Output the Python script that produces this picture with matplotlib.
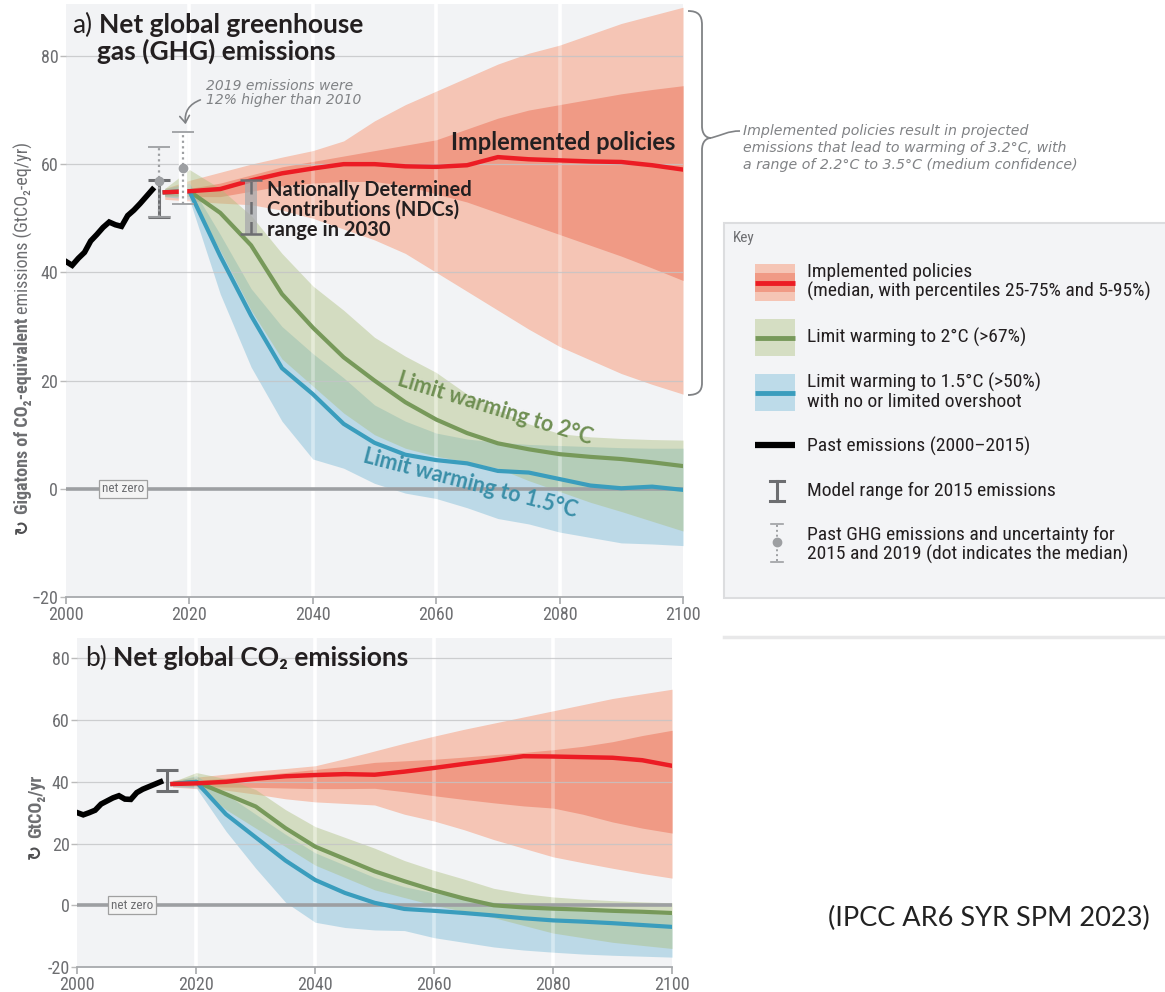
import numpy as np
import matplotlib
matplotlib.use("Agg")
import matplotlib.pyplot as plt
from matplotlib import font_manager
from matplotlib.patches import Rectangle, PathPatch
from matplotlib.path import Path


def pick(*names):
    avail = {f.name for f in font_manager.fontManager.ttflist}
    for n in names:
        if n in avail:
            return n
    return "DejaVu Sans"


NARROW = pick("Liberation Sans Narrow", "Roboto Condensed", "Roboto")
BOLD = pick("Lato", "Open Sans", "Noto Sans")

# ---------------------------------------------------------------- data
past_years = list(range(2000, 2015))
ghg_past = [42.0, 41.3, 42.6, 43.7, 45.8, 47.0, 48.3, 49.3, 48.8, 48.5,
            50.5, 51.5, 52.7, 54.0, 55.3]
co2_past = [30.0, 29.3, 30.0, 30.8, 32.8, 33.8, 34.8, 35.5, 34.4, 34.3,
            36.5, 37.6, 38.4, 39.2, 40.0]

proj_years = [2016, 2020, 2025, 2030, 2035, 2040, 2045, 2050, 2055, 2060,
              2065, 2070, 2075, 2080, 2085, 2090, 2095, 2100]

# GHG: implemented policies (median, 25-75 %, 5-95 %)
ghg_ip_med = [54.8, 55.0, 55.4, 57.0, 58.3, 59.2, 60.0, 60.0, 59.6, 59.5,
              59.8, 61.3, 60.9, 60.7, 60.5, 60.4, 59.8, 59.0]
ghg_ip_p25 = [54.3, 54.0, 54.0, 55.0, 56.0, 56.5, 56.8, 56.8, 56.0, 54.5,
              53.0, 51.0, 49.0, 47.0, 45.0, 43.0, 40.8, 38.5]
ghg_ip_p75 = [55.0, 55.5, 56.5, 58.0, 59.5, 60.5, 61.5, 62.5, 63.5, 64.5,
              66.5, 68.5, 70.0, 71.0, 72.0, 73.0, 73.8, 74.5]
ghg_ip_p05 = [53.5, 53.2, 52.8, 52.5, 51.5, 50.0, 48.0, 46.0, 43.5, 40.0,
              36.5, 33.0, 29.5, 26.3, 23.8, 21.3, 19.3, 17.5]
ghg_ip_p95 = [55.5, 57.0, 58.5, 60.0, 61.3, 62.5, 64.3, 68.0, 71.0, 73.5,
              76.0, 78.5, 80.5, 82.0, 84.0, 86.0, 87.5, 89.0]
# GHG: limit warming to 2 °C
ghg_c3_med = [54.8, 55.0, 51.0, 45.0, 36.0, 29.8, 24.3, 20.0, 16.0, 12.8,
              10.3, 8.4, 7.3, 6.4, 5.9, 5.5, 4.9, 4.2]
ghg_c3_hi = [55.5, 59.0, 55.5, 50.5, 43.5, 37.5, 33.0, 28.0, 24.5, 21.5,
             17.5, 14.5, 12.0, 10.2, 9.6, 9.3, 9.1, 9.0]
ghg_c3_lo = [54.0, 54.0, 44.0, 33.0, 24.0, 19.0, 14.0, 10.0, 7.5, 6.0,
             5.0, 3.8, 1.5, -0.5, -2.5, -4.2, -6.0, -7.8]
# GHG: limit warming to 1.5 °C
ghg_c1_med = [54.8, 55.0, 43.0, 32.0, 22.3, 17.5, 12.0, 8.5, 6.3, 5.3,
              4.7, 3.3, 3.0, 1.8, 0.6, 0.1, 0.4, -0.2]
ghg_c1_hi = [55.5, 56.5, 47.0, 37.0, 30.0, 25.0, 20.5, 15.5, 12.5, 10.3,
             9.2, 8.6, 8.2, 8.0, 7.8, 7.6, 7.5, 7.5]
ghg_c1_lo = [54.0, 53.5, 36.0, 22.5, 12.5, 5.5, 3.8, 1.0, -0.8, -1.8,
             -3.5, -5.5, -6.5, -8.0, -9.0, -10.0, -10.2, -10.5]

# CO2: implemented policies
co2_ip_med = [39.3, 39.5, 40.0, 41.0, 41.8, 42.2, 42.5, 42.3, 43.3, 44.5,
              45.8, 47.0, 48.3, 48.2, 48.0, 47.8, 47.0, 45.2]
co2_ip_p25 = [38.8, 38.5, 38.3, 38.2, 38.0, 37.8, 37.8, 37.9, 36.8, 35.5,
              34.3, 33.2, 32.2, 31.5, 29.5, 27.0, 25.0, 23.4]
co2_ip_p75 = [40.0, 40.5, 41.2, 42.0, 43.0, 44.0, 45.0, 46.3, 46.8, 47.3,
              48.0, 48.8, 49.5, 50.4, 51.5, 53.0, 55.0, 56.7]
co2_ip_p05 = [38.3, 37.8, 37.3, 36.0, 34.5, 33.5, 33.0, 32.5, 29.5, 27.3,
              24.5, 21.3, 18.5, 15.7, 13.8, 12.0, 10.3, 8.8]
co2_ip_p95 = [40.5, 41.5, 42.5, 43.5, 44.3, 45.2, 47.5, 50.0, 52.5, 54.8,
              57.0, 59.0, 61.0, 63.0, 65.0, 67.0, 68.5, 70.0]
# CO2: 2 °C
co2_c3_med = [39.3, 40.0, 36.0, 32.0, 25.0, 19.0, 15.0, 11.0, 7.8, 4.8,
              2.2, 0.0, -0.7, -1.1, -1.4, -1.8, -2.1, -2.5]
co2_c3_hi = [40.0, 43.0, 41.0, 37.5, 31.0, 25.5, 22.0, 18.5, 14.5, 11.3,
             8.5, 5.5, 3.8, 2.7, 2.0, 1.5, 1.1, 0.8]
co2_c3_lo = [38.8, 38.5, 31.0, 25.0, 19.0, 13.0, 9.0, 5.0, 2.5, 0.0,
             -2.0, -4.0, -6.5, -9.0, -10.5, -12.0, -13.0, -14.0]
# CO2: 1.5 °C
co2_c1_med = [39.3, 40.0, 29.5, 22.0, 14.5, 8.2, 4.0, 0.8, -1.2, -1.8,
              -2.5, -3.3, -4.2, -4.9, -5.3, -5.8, -6.4, -7.0]
co2_c1_hi = [40.0, 42.0, 36.0, 29.5, 23.0, 17.0, 13.0, 9.0, 6.0, 4.0,
             2.5, 1.0, 0.0, -1.0, -1.5, -2.0, -2.5, -3.0]
co2_c1_lo = [38.5, 38.0, 24.0, 12.0, 1.0, -5.5, -7.2, -8.0, -8.2, -10.5,
             -12.0, -13.5, -14.5, -15.2, -15.8, -16.2, -16.5, -16.8]

# ranges shown as bars: (year, low, high[, median])
ghg_model_2015 = (2015, 50.3, 57.0)
ghg_obs_2015 = (2015, 50.3, 63.2, 56.8)
ghg_obs_2019 = (2019, 52.7, 65.9, 59.2)
ndc_2030 = (2030, 47.0, 57.1)
co2_model_2015 = (2015, 37.1, 43.7)

x_ticks = [2000, 2020, 2040, 2060, 2080, 2100]
y_ticks = [-20, 0, 20, 40, 60, 80]
ya_labels = ["\u221220", "0", "20", "40", "60", "80"]
yb_labels = ["-20", "0", "20", "40", "60", "80"]

# ---------------------------------------------------------------- style
W, H = 1165, 992
BG = "#f2f3f5"
RED = "#ec1c24"
RED_LIGHT = "#f5c5b5"
RED_DARK = "#f09a85"
GREEN = "#77995a"
GREEN_FILL = (170 / 255, 189 / 255, 121 / 255)
BLUE = "#3a9dbd"
BLUE_FILL = (135 / 255, 192 / 255, 218 / 255)
TICK_COL = "#6d6e71"
TXT = "#231f20"
NOTE = "#808285"

fig = plt.figure(figsize=(W / 100, H / 100), dpi=100)
fig.patch.set_facecolor("white")


def fx(px):
    return px / W


def fy(py):
    return 1 - py / H


ax_a = fig.add_axes([fx(66), fy(597), (683 - 66) / W, (597 - 4) / H])
ax_b = fig.add_axes([fx(77.3), fy(967), (672 - 77.3) / W, (967 - 638) / H])


def style_axes(ax, ytop, ylabels):
    ax.set_facecolor(BG)
    ax.set_xlim(2000, 2100)
    ax.set_ylim(-20, ytop)
    for s in ("top", "right", "left"):
        ax.spines[s].set_visible(False)
    ax.spines["bottom"].set_color("#a7a9ac")
    ax.spines["bottom"].set_linewidth(1.3)
    ax.set_xticks(x_ticks)
    ax.set_yticks(y_ticks)
    ax.set_yticklabels(ylabels)
    ax.tick_params(axis="x", colors="#a7a9ac", length=5, width=1.2,
                   labelcolor=TICK_COL, labelsize=13, pad=1.5)
    ax.tick_params(axis="y", colors="#bbbbbb", length=4, width=1,
                   labelcolor=TICK_COL, labelsize=13, pad=1.5)
    for lab in ax.get_xticklabels() + ax.get_yticklabels():
        lab.set_fontfamily(NARROW)
    # white year separators, under and faintly over the bands
    for yr in x_ticks[1:-1]:
        ax.axvline(yr, color="white", lw=2.6, zorder=0.5)
        ax.axvline(yr, color="white", lw=2.6, alpha=0.3, zorder=1.8)
    for v in y_ticks[2:]:
        ax.axhline(v, color="#c3c4c6", lw=0.9, alpha=0.8, zorder=1.9)
    ax.axhline(0, color="#9d9fa2", lw=2.6, zorder=2.0)
    ax.text(2009.2, 0, "net zero", ha="center", va="center", fontsize=9.5,
            family=NARROW, color="#6d6e71", zorder=2.1,
            bbox=dict(boxstyle="square,pad=0.2", fc="#f4f4f4",
                      ec="#a0a0a0", lw=0.9))


def draw_paths(ax, past, ip, c3, c1):
    med, p25, p75, p05, p95 = ip
    ax.fill_between(proj_years, p05, p95, color=RED_LIGHT, lw=0, zorder=1.0)
    ax.fill_between(proj_years, p25, p75, color=RED_DARK, lw=0, zorder=1.1)
    ax.fill_between(proj_years, c1[2], c1[1], color=BLUE_FILL, alpha=0.5,
                    lw=0, zorder=1.2)
    ax.fill_between(proj_years, c3[2], c3[1], color=GREEN_FILL, alpha=0.42,
                    lw=0, zorder=1.3)
    ax.plot(proj_years, c3[0], color=GREEN, lw=3.0, zorder=3,
            solid_joinstyle="round")
    ax.plot(proj_years, c1[0], color=BLUE, lw=3.0, zorder=3,
            solid_joinstyle="round")
    ax.plot(proj_years, med, color=RED, lw=3.2, zorder=3.2,
            solid_joinstyle="round")
    ax.plot(past_years, past, color="black", lw=4.0, zorder=3.2,
            solid_joinstyle="miter")


def model_bar(ax, rng):
    yr, lo, hi = rng
    mid = (lo + hi) / 2
    ax.errorbar(yr, mid, yerr=(hi - lo) / 2, fmt="none", ecolor="#6d6e71",
                elinewidth=2.2, capsize=8, capthick=2.2, zorder=5)


def obs_bar(ax, rng, white_back=False):
    yr, lo, hi, med = rng
    if white_back:
        ax.vlines(yr, lo, hi, color="white", lw=6, zorder=4.5)
    eb = ax.errorbar(yr, med, yerr=[[med - lo], [hi - med]], fmt="o", ms=6,
                     color="#9d9fa2", ecolor="#9d9fa2", elinewidth=1.6,
                     capsize=8, capthick=1.3, zorder=5.2)
    eb[2][0].set_linestyle((0, (1, 1.5)))


style_axes(ax_a, 89.6, ya_labels)
style_axes(ax_b, 86.6, yb_labels)

draw_paths(ax_a, ghg_past,
           (ghg_ip_med, ghg_ip_p25, ghg_ip_p75, ghg_ip_p05, ghg_ip_p95),
           (ghg_c3_med, ghg_c3_hi, ghg_c3_lo),
           (ghg_c1_med, ghg_c1_hi, ghg_c1_lo))
draw_paths(ax_b, co2_past,
           (co2_ip_med, co2_ip_p25, co2_ip_p75, co2_ip_p05, co2_ip_p95),
           (co2_c3_med, co2_c3_hi, co2_c3_lo),
           (co2_c1_med, co2_c1_hi, co2_c1_lo))

obs_bar(ax_a, ghg_obs_2015)
model_bar(ax_a, ghg_model_2015)
obs_bar(ax_a, ghg_obs_2019, white_back=True)
model_bar(ax_b, co2_model_2015)

# NDC range in 2030
yr, lo, hi = ndc_2030
ax_a.bar(yr, hi - lo, bottom=lo, width=1.9, color="#a7a9ac", alpha=0.75,
         lw=0, zorder=4.6)
ax_a.vlines(yr, lo, hi, color="#6d6e71", lw=1.8, linestyles=(0, (5, 3)),
            zorder=4.8)
ax_a.errorbar(yr, (lo + hi) / 2, yerr=(hi - lo) / 2, fmt="none",
              ecolor="#6d6e71", elinewidth=0, capsize=8, capthick=1.8,
              zorder=4.9)

# in-plot labels
ax_a.text(2098.7, 64.0, "Implemented policies", ha="right", va="center",
          fontsize=17, fontweight="bold", family=BOLD, color=TXT, zorder=6)
ax_a.text(2032.6, 57.1, "Nationally Determined\nContributions (NDCs)\nrange in 2030",
          ha="left", va="top", fontsize=14.5, fontweight="bold", family=BOLD,
          color=TXT, linespacing=1.0, zorder=6)
ax_a.text(2069.5, 14.8, "Limit warming to 2\u00b0C", ha="center", va="center",
          rotation=-17, fontsize=15.5, fontweight="bold", family=BOLD,
          color="#6f8f53", zorder=6)
ax_a.text(2065.5, 1.0, "Limit warming to 1.5\u00b0C", ha="center",
          va="center", rotation=-14.5, fontsize=15.5, fontweight="bold",
          family=BOLD, color="#3a8fa8", zorder=6)

# ---------------------------------------------------------------- overlay
ov = fig.add_axes([0, 0, 1, 1])
ov.set_xlim(0, W)
ov.set_ylim(H, 0)
ov.axis("off")
ov.patch.set_alpha(0)

# panel titles
TS = 19
ov.text(72, 25, "a)", ha="left", va="center", fontsize=TS, family=BOLD,
        color=TXT)
ov.text(99, 25, "Net global greenhouse", ha="left", va="center",
        fontsize=TS, fontweight="bold", family=BOLD, color=TXT)
ov.text(97, 51, "gas (GHG) emissions", ha="left", va="center",
        fontsize=TS, fontweight="bold", family=BOLD, color=TXT)
ov.text(85, 658, "b)", ha="left", va="center", fontsize=TS, family=BOLD,
        color=TXT)
ov.text(113, 658, "Net global CO\u2082 emissions", ha="left", va="center",
        fontsize=TS, fontweight="bold", family=[BOLD, "DejaVu Sans"],
        color=TXT)

# y-axis titles: bold lead followed by the unit in regular weight
fig.canvas.draw()
rend = fig.canvas.get_renderer()


def vlabel(x, y0, parts, size):
    y = y0
    for txt, weight in parts:
        t = ov.text(x, y, txt, ha="left", va="center", rotation=90,
                    rotation_mode="anchor", fontsize=size, fontweight=weight,
                    family=[NARROW, "DejaVu Sans"], color="#6d6e71")
        y -= t.get_window_extent(rend).height + 4


ov.text(23, 526, "\u21bb", ha="center", va="center", rotation=90,
        fontsize=13, fontweight="bold", color="#4d4d4f")
vlabel(23, 514, [("Gigatons of CO\u2082-equivalent", "bold"),
                 ("emissions (GtCO\u2082-eq/yr)", "normal")], 13)
ov.text(36, 851, "\u21bb", ha="center", va="center", rotation=90,
        fontsize=13, fontweight="bold", color="#4d4d4f")
vlabel(36, 838, [("GtCO\u2082/yr", "bold")], 13)

# note on 2019 emissions
ov.text(206, 93, "2019 emissions were\n12% higher than 2010", ha="left",
        va="center", fontsize=10, style="italic", color=NOTE,
        linespacing=1.0)
ov.annotate("", xy=(186, 127), xytext=(203, 99),
            arrowprops=dict(arrowstyle="->,head_length=0.5,head_width=0.35",
                            color=NOTE, lw=1.2,
                            connectionstyle="arc3,rad=0.45"))

# brace and note on implemented policies
verts = [(688, 11), (698, 11), (702, 15), (702, 25),
         (702, 126),
         (702, 134), (706, 138), (711, 138),
         (706, 138), (702, 142), (702, 150),
         (702, 383),
         (702, 391), (698, 395), (688, 395)]
codes = [Path.MOVETO, Path.CURVE4, Path.CURVE4, Path.CURVE4,
         Path.LINETO,
         Path.CURVE4, Path.CURVE4, Path.CURVE4,
         Path.CURVE4, Path.CURVE4, Path.CURVE4,
         Path.LINETO,
         Path.CURVE4, Path.CURVE4, Path.CURVE4]
ov.add_patch(PathPatch(Path(verts, codes), fill=False, ec=NOTE, lw=1.3))
ov.add_patch(PathPatch(Path([(711, 138), (722, 135), (728, 131), (740, 131)],
                            [Path.MOVETO, Path.CURVE4, Path.CURVE4,
                             Path.CURVE4]),
                       fill=False, ec=NOTE, lw=1.2))
ov.text(743, 148, "Implemented policies result in projected\n"
        "emissions that lead to warming of 3.2\u00b0C, with\n"
        "a range of 2.2\u00b0C to 3.5\u00b0C (medium confidence)",
        ha="left", va="center", fontsize=10.2, style="italic",
        color=NOTE, linespacing=1.25)

# key
ov.add_patch(Rectangle((724, 223), 460, 375, fc="#f3f4f6", ec="#dcdddf",
                       lw=1.5))
ov.plot([724, W], [637, 637], color="#e8e8e9", lw=2.5)
ov.text(733, 238, "Key", ha="left", va="center", fontsize=11, family=NARROW,
        color="#6d6e71")

KX0, KX1 = 755, 795
ov.add_patch(Rectangle((KX0, 264), KX1 - KX0, 37, fc=RED_LIGHT, lw=0))
ov.add_patch(Rectangle((KX0, 273), KX1 - KX0, 19, fc=RED_DARK, lw=0))
ov.plot([KX0, KX1], [282.5, 282.5], color=RED, lw=3.5,
        solid_capstyle="butt")
ov.add_patch(Rectangle((KX0, 319), KX1 - KX0, 37, fc="#d5dec3", lw=0))
ov.plot([KX0, KX1], [337.5, 337.5], color=GREEN, lw=3.5,
        solid_capstyle="butt")
ov.add_patch(Rectangle((KX0, 374), KX1 - KX0, 37, fc="#bddbe9", lw=0))
ov.plot([KX0, KX1], [392.5, 392.5], color=BLUE, lw=3.5,
        solid_capstyle="butt")
ov.plot([KX0, KX1], [445, 445], color="black", lw=4.5, solid_capstyle="butt")
ov.plot([777, 777], [481, 501], color="#6d6e71", lw=2.2)
ov.plot([770, 784], [481, 481], color="#6d6e71", lw=2.2)
ov.plot([770, 784], [501, 501], color="#6d6e71", lw=2.2)
ov.plot([777, 777], [525, 561], color="#9d9fa2", lw=1.4,
        linestyle=(0, (1, 1.5)))
ov.plot([771, 783], [524, 524], color="#9d9fa2", lw=1.2)
ov.plot([771, 783], [562, 562], color="#9d9fa2", lw=1.2)
ov.plot([777], [541.5], "o", color="#9d9fa2", ms=6)

key_texts = [
    (282, "Implemented policies\n(median, with percentiles 25-75% and 5-95%)"),
    (337, "Limit warming to 2\u00b0C (>67%)"),
    (392, "Limit warming to 1.5\u00b0C (>50%)\nwith no or limited overshoot"),
    (446, "Past emissions (2000\u20132015)"),
    (491, "Model range for 2015 emissions"),
    (545, "Past GHG emissions and uncertainty for\n"
          "2015 and 2019 (dot indicates the median)"),
]
for ky, txt in key_texts:
    ov.text(807, ky, txt, ha="left", va="center", fontsize=14,
            family=NARROW, color=TXT, linespacing=1.08)

ov.text(828, 918, "(IPCC AR6 SYR SPM 2023)", ha="left", va="center",
        fontsize=19.5, family=pick("Lato", "Open Sans"), color="#222222")

fig.savefig("out.png", dpi=100, facecolor="white")
